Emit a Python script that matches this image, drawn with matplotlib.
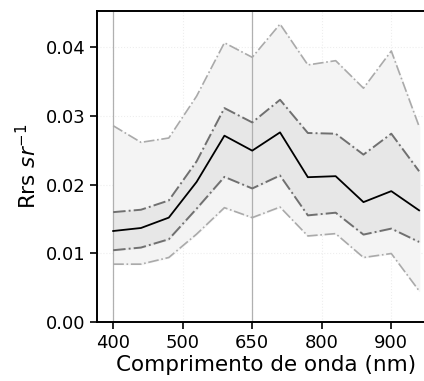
import numpy as np
import matplotlib
matplotlib.use("Agg")
import matplotlib.pyplot as plt

# Rrs statistics per band (index positions along the x axis)
mean_rrs = [0.01325, 0.01369, 0.0152, 0.0204, 0.02714, 0.02496,
            0.02762, 0.02109, 0.02124, 0.01746, 0.01906, 0.01626]
inner_upper = [0.0160, 0.01635, 0.0177, 0.0234, 0.03116, 0.02907,
               0.03237, 0.02753, 0.02743, 0.02438, 0.02743, 0.02196]
inner_lower = [0.01045, 0.01084, 0.01205, 0.0165, 0.02114, 0.01945,
               0.02134, 0.01553, 0.01592, 0.01273, 0.0136, 0.01166]
outer_upper = [0.02859, 0.02617, 0.0268, 0.0329, 0.04068, 0.03856,
               0.0434, 0.03745, 0.03807, 0.03406, 0.03948, 0.02849]
outer_lower = [0.00842, 0.00842, 0.00939, 0.0128, 0.01665, 0.0152,
               0.01674, 0.01253, 0.01287, 0.00939, 0.00997, 0.00454]

tick_pos = [0, 2.5, 5, 7.5, 10]
tick_labels = ["400", "500", "650", "800", "900"]
marked_pos = [0, 5]

x = np.arange(len(mean_rrs))

fig = plt.figure(figsize=(4.24, 3.81), dpi=100)
ax = fig.add_axes([0.2295, 0.155, 0.795, 0.816])

ax.grid(True, color="#eeeeee", linestyle=":", linewidth=0.8)

ax.fill_between(x, outer_lower, outer_upper, color="#f4f4f4", zorder=2)
ax.fill_between(x, inner_lower, inner_upper, color="#e7e7e7", zorder=2)
for p in marked_pos:
    ax.axvline(p, color="#b0b0b0", linewidth=0.9, zorder=2.5)

ax.plot(x, outer_upper, color="#aaaaaa", linestyle="-.", linewidth=1.2, zorder=3)
ax.plot(x, outer_lower, color="#aaaaaa", linestyle="-.", linewidth=1.2, zorder=3)
ax.plot(x, inner_upper, color="#707070", linestyle="-.", linewidth=1.4, zorder=3)
ax.plot(x, inner_lower, color="#707070", linestyle="-.", linewidth=1.4, zorder=3)
ax.plot(x, mean_rrs, color="black", linewidth=1.3, zorder=4)

ax.set_xlim(-0.57, 11.55)
ax.set_ylim(0, 0.0453)
ax.set_xticks(tick_pos)
ax.set_xticklabels(tick_labels)
ax.set_yticks([0.0, 0.01, 0.02, 0.03, 0.04])
ax.set_yticklabels(["0.00", "0.01", "0.02", "0.03", "0.04"])
ax.tick_params(labelsize=13, length=5, width=1.2)
for s in ax.spines.values():
    s.set_linewidth(1.4)

ax.set_xlabel("Comprimento de onda (nm)", fontsize=15.5, labelpad=2)
ax.set_ylabel("Rrs $sr^{-1}$", fontsize=15.5)

fig.savefig("out.png", dpi=100)
